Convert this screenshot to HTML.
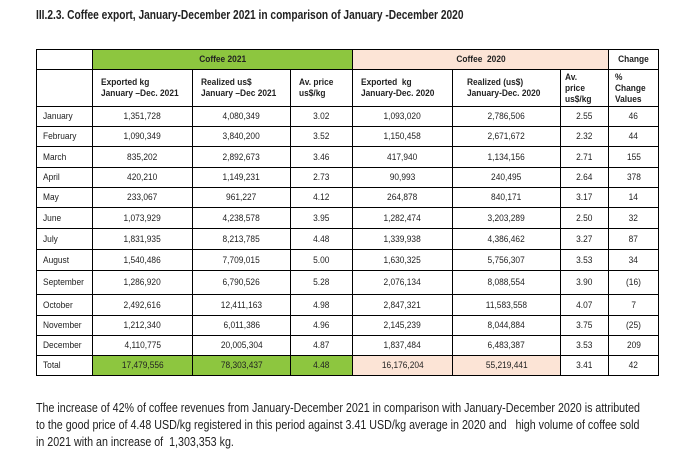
<!DOCTYPE html>
<html><head><meta charset="utf-8"><style>
body{margin:0;width:700px;height:459px;background:#fff;position:relative;overflow:hidden;font-family:"Liberation Sans",Arial,sans-serif;color:#222}
.title{position:absolute;left:36px;top:8px;font-weight:bold;font-size:12.5px;white-space:nowrap;transform-origin:0 0;transform:scaleX(0.815)}
table{position:absolute;left:36px;top:49px;border-collapse:collapse;table-layout:fixed;font-size:9.5px;border:1.5px solid #000}
td{border:1px solid #000;padding:0;text-align:center;overflow:hidden;white-space:nowrap}
td span{display:inline-block;transform:scaleX(0.88)}
.l{text-align:left;padding-left:6px}
.l span{transform-origin:0 50%}
.g{background:#8dc63f}
.p{background:#fce4d6}
.h{font-weight:bold;text-align:left;padding-left:8px;line-height:11px}
.h span{transform-origin:0 50%}
.para{position:absolute;left:36px;top:400px;font-size:12.5px;line-height:17px;white-space:nowrap;transform-origin:0 0;transform:scaleX(0.855)}
</style></head><body>
<div class="title">III.2.3. Coffee export, January-December 2021 in comparison of January -December 2020</div>
<table>
<colgroup><col style="width:56px"><col style="width:100px"><col style="width:98px"><col style="width:62px"><col style="width:100px"><col style="width:108px"><col style="width:48px"><col style="width:50px"></colgroup>
<tr style="height:20px"><td></td><td class="g" colspan="3"><b><span>Coffee 2021</span></b></td><td class="p" colspan="3"><b><span>Coffee &nbsp;2020</span></b></td><td><b><span>Change</span></b></td></tr>
<tr style="height:37px"><td></td><td class="h"><span>Exported kg<br>January –Dec. 2021</span></td><td class="h"><span>Realized us$<br>January –Dec 2021</span></td><td class="h"><span>Av. price<br>us$/kg</span></td><td class="h"><span>Exported &nbsp;kg<br>January-Dec. 2020</span></td><td class="h" style="padding-left:14px"><span>Realized (us$)<br>January-Dec. 2020</span></td><td class="h" style="padding-left:4px"><span>Av.<br>price<br>us$/kg</span></td><td class="h" style="padding-left:6px"><span>%<br>Change<br>Values</span></td></tr>
<tr style="height:20px"><td class="l"><span>January</span></td><td><span>1,351,728</span></td><td><span>4,080,349</span></td><td><span>3.02</span></td><td><span>1,093,020</span></td><td><span>2,786,506</span></td><td><span>2.55</span></td><td><span>46</span></td></tr>
<tr style="height:20px"><td class="l"><span>February</span></td><td><span>1,090,349</span></td><td><span>3,840,200</span></td><td><span>3.52</span></td><td><span>1,150,458</span></td><td><span>2,671,672</span></td><td><span>2.32</span></td><td><span>44</span></td></tr>
<tr style="height:21px"><td class="l"><span>March</span></td><td><span>835,202</span></td><td><span>2,892,673</span></td><td><span>3.46</span></td><td><span>417,940</span></td><td><span>1,134,156</span></td><td><span>2.71</span></td><td><span>155</span></td></tr>
<tr style="height:20px"><td class="l"><span>April</span></td><td><span>420,210</span></td><td><span>1,149,231</span></td><td><span>2.73</span></td><td><span>90,993</span></td><td><span>240,495</span></td><td><span>2.64</span></td><td><span>378</span></td></tr>
<tr style="height:20px"><td class="l"><span>May</span></td><td><span>233,067</span></td><td><span>961,227</span></td><td><span>4.12</span></td><td><span>264,878</span></td><td><span>840,171</span></td><td><span>3.17</span></td><td><span>14</span></td></tr>
<tr style="height:21px"><td class="l"><span>June</span></td><td><span>1,073,929</span></td><td><span>4,238,578</span></td><td><span>3.95</span></td><td><span>1,282,474</span></td><td><span>3,203,289</span></td><td><span>2.50</span></td><td><span>32</span></td></tr>
<tr style="height:21px"><td class="l"><span>July</span></td><td><span>1,831,935</span></td><td><span>8,213,785</span></td><td><span>4.48</span></td><td><span>1,339,938</span></td><td><span>4,386,462</span></td><td><span>3.27</span></td><td><span>87</span></td></tr>
<tr style="height:21px"><td class="l"><span>August</span></td><td><span>1,540,486</span></td><td><span>7,709,015</span></td><td><span>5.00</span></td><td><span>1,630,325</span></td><td><span>5,756,307</span></td><td><span>3.53</span></td><td><span>34</span></td></tr>
<tr style="height:24px"><td class="l"><span>September</span></td><td><span>1,286,920</span></td><td><span>6,790,526</span></td><td><span>5.28</span></td><td><span>2,076,134</span></td><td><span>8,088,554</span></td><td><span>3.90</span></td><td><span>(16)</span></td></tr>
<tr style="height:21px"><td class="l"><span>October</span></td><td><span>2,492,616</span></td><td><span>12,411,163</span></td><td><span>4.98</span></td><td><span>2,847,321</span></td><td><span>11,583,558</span></td><td><span>4.07</span></td><td><span>7</span></td></tr>
<tr style="height:20px"><td class="l"><span>November</span></td><td><span>1,212,340</span></td><td><span>6,011,386</span></td><td><span>4.96</span></td><td><span>2,145,239</span></td><td><span>8,044,884</span></td><td><span>3.75</span></td><td><span>(25)</span></td></tr>
<tr style="height:20px"><td class="l"><span>December</span></td><td><span>4,110,775</span></td><td><span>20,005,304</span></td><td><span>4.87</span></td><td><span>1,837,484</span></td><td><span>6,483,387</span></td><td><span>3.53</span></td><td><span>209</span></td></tr>
<tr style="height:20px"><td class="l"><span>Total</span></td><td class="g"><span>17,479,556</span></td><td class="g"><span>78,303,437</span></td><td class="g"><span>4.48</span></td><td class="p"><span>16,176,204</span></td><td class="p"><span>55,219,441</span></td><td><span>3.41</span></td><td><span>42</span></td></tr>
</table>
<div class="para">The increase of 42% of coffee revenues from January-December 2021 in comparison with January-December 2020 is attributed<br>to the good price of 4.48 USD/kg registered in this period against 3.41 USD/kg average in 2020 and &nbsp;&nbsp;high volume of coffee sold<br>in 2021 with an increase of &nbsp;1,303,353 kg.</div>
</body></html>
